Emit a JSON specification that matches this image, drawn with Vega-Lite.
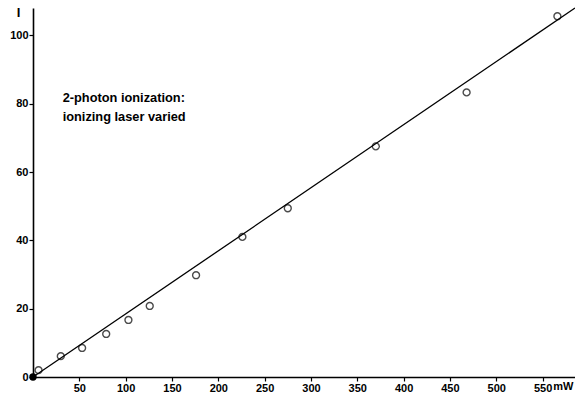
{
  "$schema": "https://vega.github.io/schema/vega-lite/v6.json",
  "width": 542,
  "height": 369,
  "autosize": "none",
  "padding": {"left": 33, "top": 8, "right": 0, "bottom": 16},
  "background": "white",
  "config": {
    "view": {"stroke": null},
    "font": "Liberation Sans",
    "axis": {
      "domainColor": "black",
      "domainWidth": 1.6,
      "tickColor": "black",
      "tickWidth": 1.2,
      "tickSize": 4,
      "grid": false,
      "labelFont": "Liberation Sans",
      "labelFontWeight": "bold",
      "labelFontSize": 11,
      "labelColor": "black",
      "titleFont": "Liberation Sans",
      "titleFontWeight": "bold",
      "titleColor": "black"
    }
  },
  "datasets": {
    "measured": [
      {"power": 6, "signal": 2},
      {"power": 30, "signal": 6.1},
      {"power": 53, "signal": 8.5},
      {"power": 79, "signal": 12.6},
      {"power": 103, "signal": 16.7},
      {"power": 126, "signal": 20.8},
      {"power": 176, "signal": 29.8},
      {"power": 226, "signal": 41},
      {"power": 275, "signal": 49.4},
      {"power": 370, "signal": 67.5},
      {"power": 468, "signal": 83.3},
      {"power": 566, "signal": 105.6}
    ],
    "fit": [
      {"power": 0, "signal": 0},
      {"power": 585, "signal": 108}
    ],
    "origin": [
      {"power": 0, "signal": 0}
    ],
    "note": [
      {"power": 32, "signal": 81.8, "text": "2-photon ionization:"},
      {"power": 32, "signal": 76.2, "text": "ionizing laser varied"}
    ]
  },
  "layer": [
    {
      "data": {"name": "fit"},
      "mark": {"type": "line", "color": "black", "strokeWidth": 1.3, "clip": false},
      "encoding": {
        "x": {
          "field": "power",
          "type": "quantitative",
          "scale": {"domain": [0, 585], "nice": false},
          "axis": {
            "values": [50, 100, 150, 200, 250, 300, 350, 400, 450, 500, 550],
            "labelPadding": 1,
            "title": "mW",
            "titleFontSize": 11,
            "titleAlign": "right",
            "titleBaseline": "middle",
            "titleX": 540,
            "titleY": 9,
            "titleAngle": 0
          }
        },
        "y": {
          "field": "signal",
          "type": "quantitative",
          "scale": {"domain": [0, 108], "nice": false},
          "axis": {
            "values": [0, 20, 40, 60, 80, 100],
            "labelPadding": 1,
            "title": "I",
            "titleFontSize": 13,
            "titleAngle": 0,
            "titleAlign": "center",
            "titleBaseline": "middle",
            "titleX": -15,
            "titleY": 4
          }
        }
      }
    },
    {
      "data": {"name": "measured"},
      "mark": {"type": "point", "shape": "circle", "filled": false, "color": "black", "strokeWidth": 1.4, "size": 48},
      "encoding": {
        "x": {"field": "power", "type": "quantitative"},
        "y": {"field": "signal", "type": "quantitative"}
      }
    },
    {
      "data": {"name": "origin"},
      "mark": {"type": "point", "shape": "circle", "filled": true, "color": "black", "opacity": 1, "size": 55, "clip": false},
      "encoding": {
        "x": {"field": "power", "type": "quantitative"},
        "y": {"field": "signal", "type": "quantitative"}
      }
    },
    {
      "data": {"name": "note"},
      "mark": {"type": "text", "align": "left", "baseline": "middle", "font": "Liberation Sans", "fontWeight": "bold", "fontSize": 12.8, "color": "black"},
      "encoding": {
        "x": {"field": "power", "type": "quantitative"},
        "y": {"field": "signal", "type": "quantitative"},
        "text": {"field": "text"}
      }
    }
  ]
}
